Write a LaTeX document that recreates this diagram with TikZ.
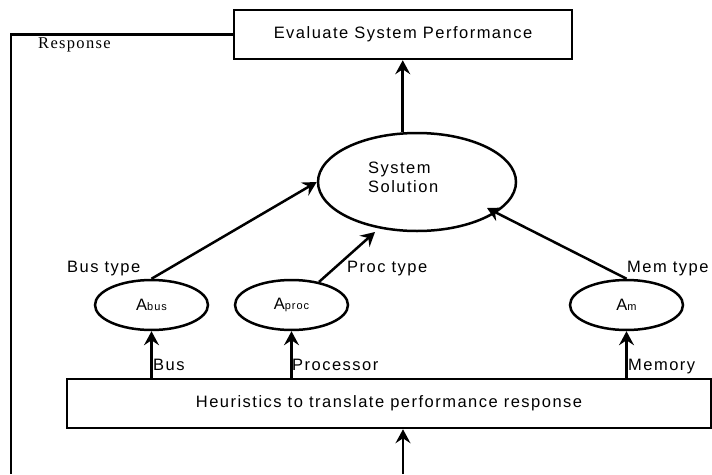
\documentclass[tikz,border=0pt]{standalone}
\usepackage{fontspec}
\setmainfont{Liberation Sans}[LetterSpace=9]
\newfontfamily\respfont{Liberation Serif}[LetterSpace=8]
\usetikzlibrary{shapes.geometric,arrows.meta}

\tikzset{
  lw/.style={line width=2.5pt},
  arr/.style={lw,-{Stealth[length=14pt,width=15pt,inset=5pt]}},
  box/.style={draw,lw,rectangle,inner sep=0pt},
  oval/.style={draw,lw,ellipse,inner sep=0pt},
  lbl/.style={inner sep=0pt,anchor=base west},
  every node/.style={font=\fontsize{16.5}{19}\selectfont},
}
\newcommand{\subtxt}[1]{{\fontsize{11}{12}\selectfont #1}}

\begin{document}
\begin{tikzpicture}[x=1pt,y=-1pt]
\useasboundingbox (0,0) rectangle (712,474);

% boxes and ovals
\node[box,minimum width=338pt,minimum height=49pt] (eval) at (403,34.5) {Evaluate System Performance};
\node[oval,minimum width=198pt,minimum height=98pt] (sol) at (417,182) {};
\node[lbl,anchor=base west,align=left] (soltxt) at (368,192) {System\\Solution};
\node[oval,minimum width=113pt,minimum height=50pt] (abus) at (151.5,305) {A\subtxt{bus}};
\node[oval,minimum width=113pt,minimum height=50pt] (aproc) at (291.5,305) {A\subtxt{proc}};
\node[oval,minimum width=113pt,minimum height=50pt] (am) at (626.5,305) {A\subtxt{m}};
\node[box,minimum width=644pt,minimum height=49pt] (heur) at (389,403.5) {Heuristics to translate performance response};

% labels
\node[lbl] (lbus) at (67,272) {Bus type};
\node[lbl] (lproc) at (347,272) {Proc type};
\node[lbl] (lmem) at (627,272) {Mem type};
\node[lbl] (ibus) at (153,370) {Bus};
\node[lbl] (iproc) at (292,370) {Processor};
\node[lbl] (imem) at (628,370) {Memory};
\node[lbl,font=\respfont\fontsize{16.5}{18}\selectfont] (resp) at (38,48) {Response};

% free ends
\coordinate (src) at (403,474);
\coordinate (corner) at (11,34.5);
\coordinate (low) at (11,474);
\coordinate (proctip) at (375,232);
\coordinate (memtip) at (487,208);

% connectors
\draw[arr] (sol.106) -- (sol.106 |- eval.south);
\draw[lw] (eval.west) -- (corner) -- (low);
\draw[arr] (src) -- (src |- heur.south);
\draw[arr] (abus.south |- heur.north) -- (abus.south);
\draw[arr] (aproc.south |- heur.north) -- (aproc.south);
\draw[arr] (am.south |- heur.north) -- (am.south);
\draw[arr] (abus.north) -- (sol.west);
\draw[arr] (aproc.40) -- (proctip);
\draw[arr] (am.north) -- (memtip);
\end{tikzpicture}
\end{document}
